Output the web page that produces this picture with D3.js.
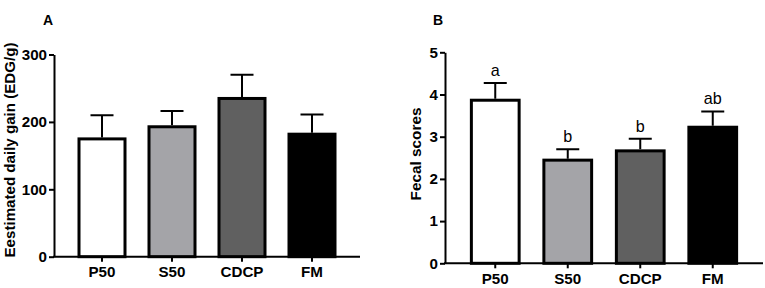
<!DOCTYPE html>
<html>
<head>
<meta charset="utf-8">
<script src="https://cdn.jsdelivr.net/npm/d3@7"></script>
<style>
  body { margin: 0; background: #fff; }
  svg text { font-family: Arial, "Liberation Sans", sans-serif; }
</style>
</head>
<body>
<div id="chart"></div>
<script>
// groups, shared by both panels
var groups = ['P50', 'S50', 'CDCP', 'FM']
var fills = ['#ffffff', '#a4a4a8', '#606060', '#000000']

// panel A: estimated daily gain
var edgMean = [177, 195, 237, 184]
var edgErr = [33, 21, 33, 27]
var edgTicks = [0, 100, 200, 300]

// panel B: fecal scores
var fecalMean = [3.90, 2.48, 2.70, 3.26]
var fecalErr = [0.37, 0.22, 0.25, 0.34]
var fecalTicks = [0, 1, 2, 3, 4, 5]
var fecalLetters = ['a', 'b', 'b', 'ab']

var width = 765, height = 288

var svg = d3.select('#chart')
    .append('svg')
    .attr('width', width)
    .attr('height', height)

function boldText(sel, size) {
    sel.attr('font-size', size)
        .attr('font-weight', 'bold')
        .attr('font-family', 'Arial, "Liberation Sans", sans-serif')
        .attr('fill', 'black')
}

// pick a font size so that a text reaches a measured length
function fitSize(text, weight, target) {
    var t = svg.append('text')
        .attr('font-size', 20)
        .attr('font-weight', weight)
        .attr('font-family', 'Arial, "Liberation Sans", sans-serif')
        .text(text)
    var len = t.node().getComputedTextLength()
    t.remove()
    return len > 0 ? 20 * target / len : 15
}

var tickSize = fitSize('CDCP', 'bold', 43)
var sigSize = fitSize('ab', 'normal', 18)

function drawPanel(p) {
    var y = d3.scaleLinear()
        .domain([0, p.max])
        .range([p.y0, p.y1])

    var x = d3.scaleBand()
        .domain(groups)
        .range([p.bx0, p.bx1])
        .paddingInner(p.pad)
        .paddingOuter(p.pad / 2)

    var g = svg.append('g')

    // error bars first, bars drawn over them
    g.selectAll('.err')
        .data(groups)
        .enter()
        .append('path')
        .attr('class', 'err')
        .attr('d', function(d, i) {
            var cx = x(d) + x.bandwidth() / 2
            var top = y(p.mean[i] + p.err[i])
            return 'M' + cx + ',' + y(p.mean[i]) + 'V' + top +
                'M' + (cx - 11.5) + ',' + top + 'H' + (cx + 11.5)
        })
        .attr('stroke', 'black')
        .attr('stroke-width', 2)
        .attr('fill', 'none')

    g.selectAll('rect')
        .data(groups)
        .enter()
        .append('rect')
        .attr('x', function(d) { return x(d) + 1.5 })
        .attr('width', x.bandwidth() - 3)
        .attr('y', function(d, i) { return y(p.mean[i]) + 1.5 })
        .attr('height', function(d, i) { return y(0) - y(p.mean[i]) - 1.5 })
        .attr('fill', function(d, i) { return fills[i] })
        .attr('stroke', 'black')
        .attr('stroke-width', 3)

    // y axis
    var ya = g.append('g')
        .attr('transform', 'translate(' + p.ax + ',0)')
        .call(d3.axisLeft(y).tickValues(p.ticks).tickFormat(d3.format('d'))
            .tickSize(5).tickSizeOuter(0).tickPadding(2))
    ya.select('.domain').attr('stroke-width', 2)
    ya.selectAll('.tick line').attr('stroke-width', 2)
    ya.selectAll('text').call(boldText, tickSize)

    // x axis
    var xa = g.append('g')
        .attr('transform', 'translate(0,' + p.y0 + ')')
        .call(d3.axisBottom(x).tickSize(5).tickSizeOuter(0).tickPadding(5))
    xa.select('.domain')
        .attr('d', 'M' + (p.ax - 1) + ',0H' + p.axEnd)
        .attr('stroke-width', 2)
    xa.selectAll('.tick line').attr('stroke-width', 2)
    xa.selectAll('text').call(boldText, tickSize)

    // axis title, sized to the length it has in the figure
    g.append('text')
        .attr('transform', 'translate(' + p.tx + ',' + p.ty + ') rotate(-90)')
        .attr('text-anchor', 'middle')
        .call(boldText, fitSize(p.title, 'bold', p.tlen))
        .text(p.title)

    // panel letter
    g.append('text')
        .attr('x', p.lx)
        .attr('y', 25)
        .call(boldText, 14)
        .text(p.label)

    if (p.letters) {
        g.selectAll('.sig')
            .data(groups)
            .enter()
            .append('text')
            .attr('class', 'sig')
            .attr('x', function(d) { return x(d) + x.bandwidth() / 2 })
            .attr('y', function(d, i) { return y(p.mean[i] + p.err[i]) - 7 })
            .attr('text-anchor', 'middle')
            .attr('font-size', sigSize)
            .text(function(d, i) { return p.letters[i] })
    }
}

drawPanel({
    mean: edgMean, err: edgErr, ticks: edgTicks, max: 300,
    y0: 256.7, y1: 54.5, ax: 54, axEnd: 360,
    bx0: 67, bx1: 347, pad: 0.3,
    title: 'Eestimated daily gain (EDG/g)', tx: 15, ty: 150, tlen: 215,
    label: 'A', lx: 43
})

drawPanel({
    mean: fecalMean, err: fecalErr, ticks: fecalTicks, max: 5,
    y0: 263.3, y1: 52.3, ax: 445, axEnd: 763,
    bx0: 459, bx1: 749, pad: 0.3,
    title: 'Fecal scores', tx: 421, ty: 154, tlen: 93,
    label: 'B', lx: 433, letters: fecalLetters
})
</script>
</body>
</html>
